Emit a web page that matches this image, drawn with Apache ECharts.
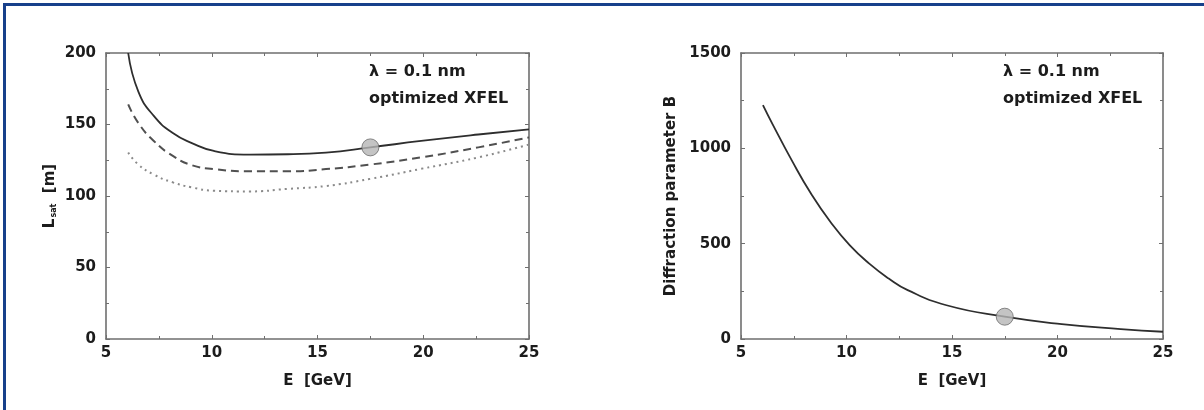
<!DOCTYPE html>
<html>
<head>
<meta charset="utf-8">
<script src="https://cdn.jsdelivr.net/npm/echarts@6/dist/echarts.min.js"></script>
<style>
  html, body { margin: 0; padding: 0; background: #ffffff; }
  #frame { position: absolute; left: 3px; top: 3px; width: 1201px; height: 407px;
           border-left: 3px solid #17408b; border-top: 3px solid #17408b; box-sizing: border-box; }
  #chart { position: absolute; left: 0; top: 0; width: 1204px; height: 410px; }
</style>
</head>
<body>
<div id="frame"></div>
<div id="chart"></div>
<script>
// ---- Left panel: saturation length vs electron energy ----
const energyL = [6.05, 6.53, 7.26, 8.16, 9.06, 10.1, 11.8, 13.6, 15.4, 17.5, 19.9, 22.6, 25];
const solidL  = [200, 173, 156, 144, 137, 131.5, 129, 129.2, 130.4, 134, 138.5, 143, 146.6];
const dashedL = [164, 151, 138.5, 128, 121.5, 118.8, 117.3, 117.3, 118.8, 122, 127, 134, 141];
const dottedL = [130.4, 122, 115, 109.5, 106, 103.7, 103.2, 105, 107, 112, 119, 127, 136];
const pointL  = [17.5, 134];

// ---- Right panel: diffraction parameter vs electron energy ----
const energyB = [6.04, 6.5, 7.42, 8.33, 9.25, 10.16, 11.08, 12.0, 12.9, 14.74, 17.5, 20.2, 23.0, 25];
const diffB   = [1227, 1126, 934, 760, 612, 491, 395, 317, 256, 177, 117, 78, 52, 38];
const pointB  = [17.5, 117];

const xTicks = [5, 10, 15, 20, 25];
const yTicksL = [0, 50, 100, 150, 200];
const yTicksB = [0, 500, 1000, 1500];

const annotation = ['λ = 0.1 nm', 'optimized XFEL'];

const FONT = 'DejaVu Sans, Liberation Sans, Arial, sans-serif';
const axisColor = '#6f6f6f';
const textColor = '#1c1c1c';

function zip(xs, ys) { return xs.map((x, i) => [x, ys[i]]); }

function xAxisDef(grid, show) {
  return {
    type: 'value', gridIndex: grid, min: xTicks[0], max: xTicks[xTicks.length - 1], interval: xTicks[1] - xTicks[0],
    position: show ? 'bottom' : 'top',
    name: show ? 'E  [GeV]' : '', nameLocation: 'middle', nameGap: 35,
    nameTextStyle: { fontFamily: FONT, fontWeight: 'bold', fontSize: 15, color: textColor },
    axisLine: { show: true, onZero: false, lineStyle: { color: axisColor, width: 1.6 } },
    axisTick: { show: true, inside: true, length: 4, lineStyle: { color: axisColor } },
    minorTick: { show: true, splitNumber: 2, length: 3, lineStyle: { color: axisColor } },
    axisLabel: { show: show, fontFamily: FONT, fontWeight: 'bold', fontSize: 15, color: textColor, margin: 7,
                 formatter: v => String(v) },
    splitLine: { show: false }
  };
}
function yAxisDef(grid, show, ticks, name) {
  return {
    type: 'value', gridIndex: grid, min: ticks[0], max: ticks[ticks.length - 1], interval: ticks[1] - ticks[0],
    position: show ? 'left' : 'right',
    name: show ? name : '', nameLocation: 'middle',
    axisLine: { show: true, onZero: false, lineStyle: { color: axisColor, width: 1.6 } },
    axisTick: { show: true, inside: true, length: 4, lineStyle: { color: axisColor } },
    minorTick: { show: true, splitNumber: 2, length: 3, lineStyle: { color: axisColor } },
    axisLabel: { show: show, fontFamily: FONT, fontWeight: 'bold', fontSize: 15, color: textColor, margin: 10,
                 formatter: v => String(v) },
    splitLine: { show: false }
  };
}

const yL = yAxisDef(0, true, yTicksL, '');
yL.name = '{L|L}{s|sat}{L|  [m]}';
yL.nameGap = 48;
yL.nameTextStyle = { rich: {
  L: { fontFamily: FONT, fontWeight: 'bold', fontSize: 15, color: textColor },
  s: { fontFamily: FONT, fontWeight: 'bold', fontSize: 8, color: textColor, verticalAlign: 'bottom', padding: [7, 0, 0, 1] }
} };

const yB = yAxisDef(1, true, yTicksB, 'Diffraction parameter B');
yB.nameGap = 62;
yB.nameTextStyle = { fontFamily: FONT, fontWeight: 'bold', fontSize: 15, color: textColor };

const lineBase = { type: 'line', smooth: 0.5, showSymbol: false, symbol: 'none', clip: true, z: 3 };
const pointStyle = { color: '#b5b5b5', borderColor: '#6b6b6b', borderWidth: 1 };

function annot(x) {
  return annotation.map((t, i) => ({
    type: 'text', left: x, top: 64 + i * 27,
    style: { text: t, fontFamily: FONT, fontWeight: 'bold', fontSize: 16, fill: textColor }
  }));
}

const chart = echarts.init(document.getElementById('chart'), null, { renderer: 'canvas' });
chart.setOption({
  animation: false,
  backgroundColor: 'transparent',
  grid: [
    { left: 106, top: 53, width: 423, height: 286 },
    { left: 741, top: 53, width: 422, height: 286 }
  ],
  xAxis: [xAxisDef(0, true), xAxisDef(0, false), xAxisDef(1, true), xAxisDef(1, false)],
  yAxis: [yL, yAxisDef(0, false, yTicksL, ''), yB, yAxisDef(1, false, yTicksB, '')],
  series: [
    Object.assign({}, lineBase, { xAxisIndex: 0, yAxisIndex: 0, data: zip(energyL, solidL),
      lineStyle: { color: '#2e2e2e', width: 1.8 } }),
    Object.assign({}, lineBase, { xAxisIndex: 0, yAxisIndex: 0, data: zip(energyL, dashedL),
      lineStyle: { color: '#505050', width: 2, type: [8, 5] } }),
    Object.assign({}, lineBase, { xAxisIndex: 0, yAxisIndex: 0, data: zip(energyL, dottedL),
      lineStyle: { color: '#8a8a8a', width: 2, type: [2, 4] } }),
    { type: 'scatter', xAxisIndex: 0, yAxisIndex: 0, data: [pointL], symbolSize: 17, itemStyle: pointStyle, z: 5 },
    Object.assign({}, lineBase, { xAxisIndex: 2, yAxisIndex: 2, data: zip(energyB, diffB),
      lineStyle: { color: '#2e2e2e', width: 1.8 } }),
    { type: 'scatter', xAxisIndex: 2, yAxisIndex: 2, data: [pointB], symbolSize: 17, itemStyle: pointStyle, z: 5 }
  ],
  graphic: annot(369).concat(annot(1003))
});
</script>
</body>
</html>
